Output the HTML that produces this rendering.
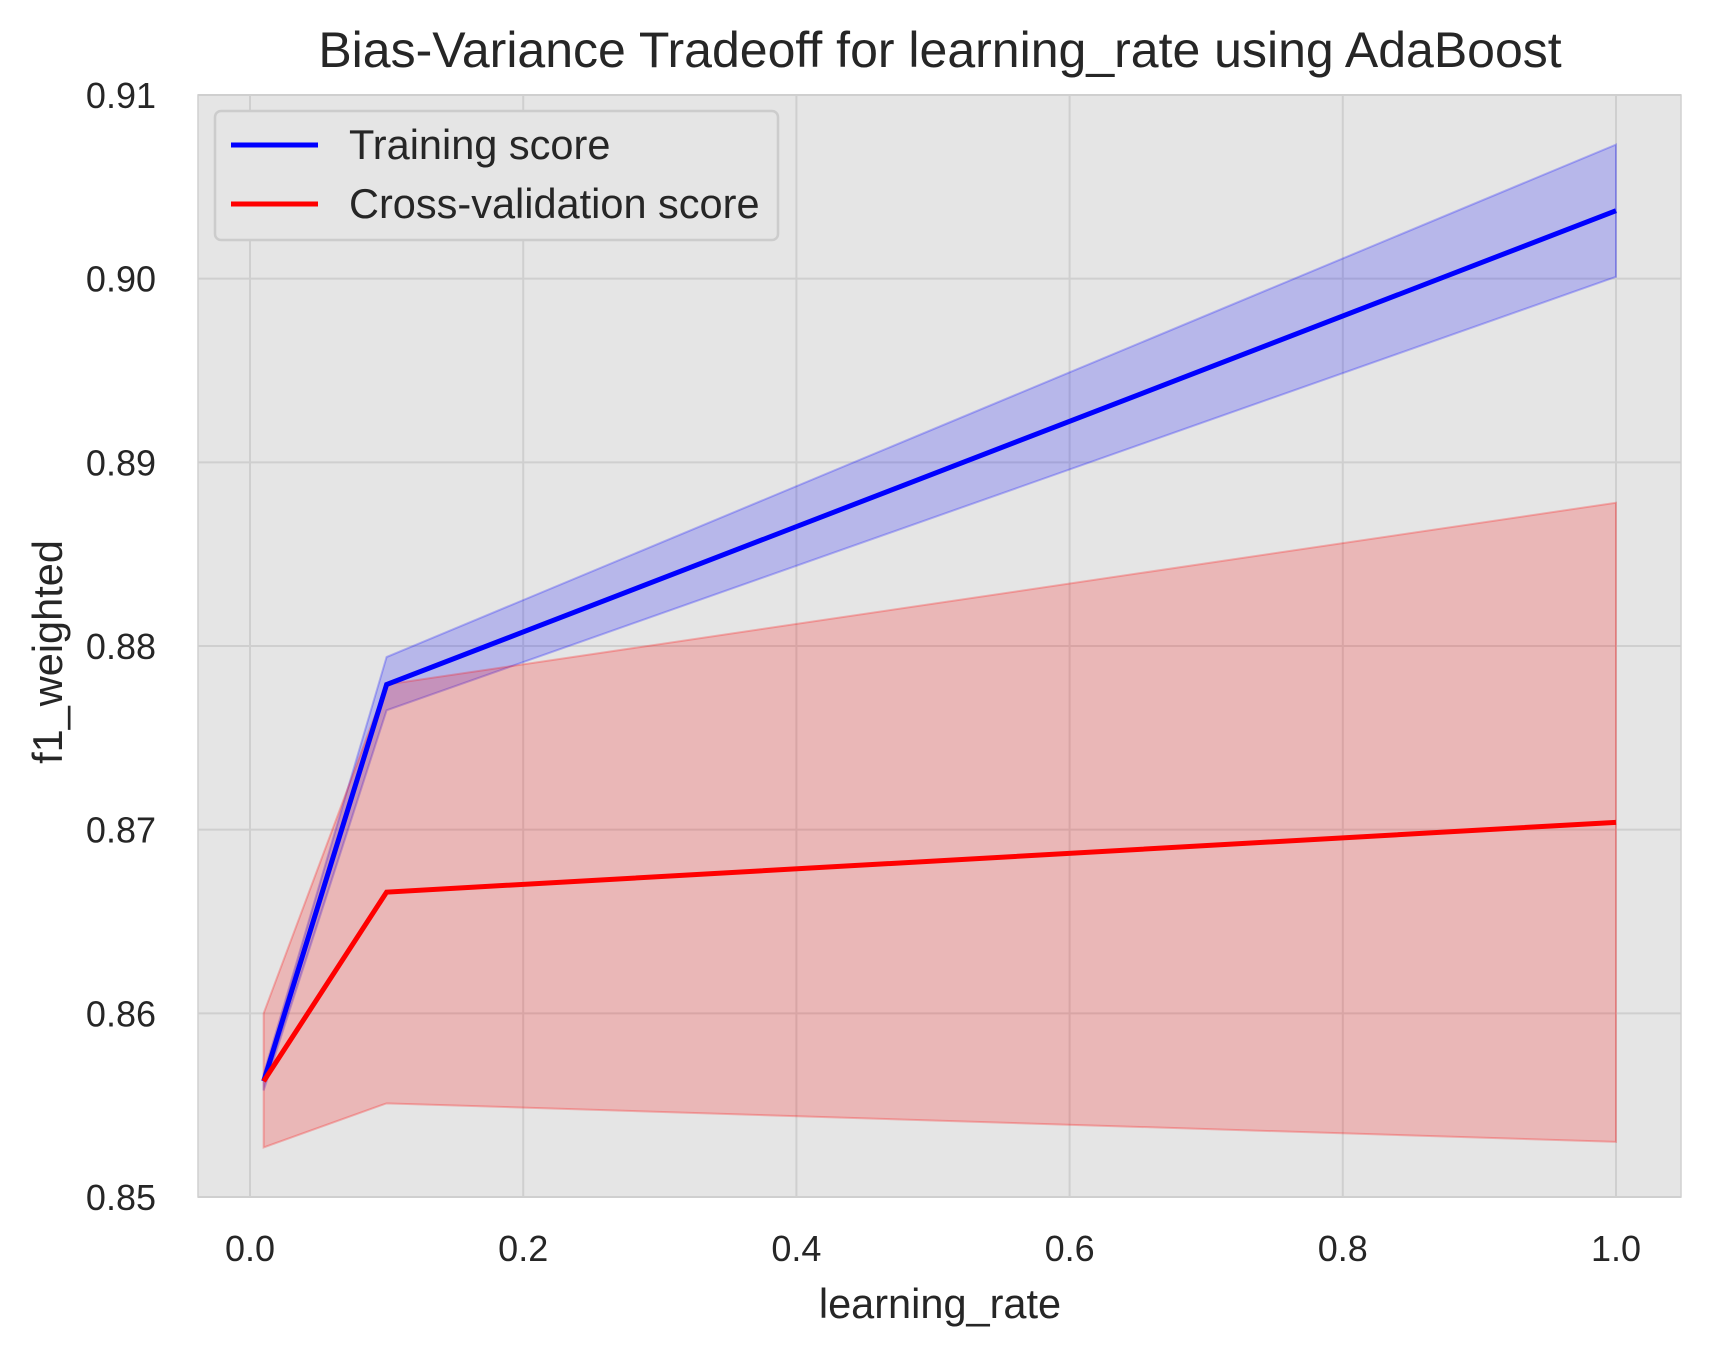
<!DOCTYPE html>
<html><head><meta charset="utf-8"><style>
html,body{margin:0;padding:0;background:#fff}
text{font-family:"Liberation Sans",Arial,sans-serif;fill:#262626}
</style></head><body>
<svg id="chart" width="1713" height="1352" viewBox="0 0 1713 1352" xmlns="http://www.w3.org/2000/svg"></svg>
<script>
const xValues=[0.01,0.1,1.0];
const trainMean=[0.8563,0.8779,0.9037];
const trainUpper=[0.8567,0.8794,0.9073];
const trainLower=[0.8558,0.8765,0.9001];
const cvMean=[0.8563,0.8666,0.8704];
const cvUpper=[0.8600,0.8779,0.8878];
const cvLower=[0.8527,0.8551,0.8530];
const xTicks=[0.0,0.2,0.4,0.6,0.8,1.0];
const xTickLabels=["0.0","0.2","0.4","0.6","0.8","1.0"];
const yTicks=[0.85,0.86,0.87,0.88,0.89,0.90,0.91];
const yTickLabels=["0.85","0.86","0.87","0.88","0.89","0.90","0.91"];

const L=198,R=1681,T=95,B=1197;
const sx=v=>250+(v-0)*(1616-250);
const sy=v=>B-(v-0.85)/(0.06)*(B-T);
const svg=document.getElementById('chart');
const NS='http://www.w3.org/2000/svg';
function mk(tag,attrs,parent){const e=document.createElementNS(NS,tag);for(const k in attrs)e.setAttribute(k,attrs[k]);(parent||svg).appendChild(e);return e;}

const bg=mk('rect',{x:L,y:T,width:R-L,height:B-T,fill:'#e5e5e5',stroke:'#d0d0d0','stroke-width':1.5});



xTicks.forEach((t,i)=>{
  const g=mk('line',{x1:sx(t),x2:sx(t),y1:T,y2:B,stroke:'#cfcfcf','stroke-width':2});
  
  
  const lb=mk('text',{x:sx(t),y:1261,'font-size':36,'text-anchor':'middle'});
  lb.textContent=xTickLabels[i];
  
  
});
yTicks.forEach((t,i)=>{
  const g=mk('line',{x1:L,x2:R,y1:sy(t),y2:sy(t),stroke:'#cfcfcf','stroke-width':2});
  
  
  const lb=mk('text',{x:156,y:sy(t)+13,'font-size':36,'text-anchor':'end'});
  lb.textContent=yTickLabels[i];
  
  
});

function band(up,lo,color,name){
  let d='M'+xValues.map((x,i)=>sx(x)+','+sy(up[i])).join(' L');
  d+=' L'+xValues.map((x,i)=>sx(x)+','+sy(lo[i])).reverse().join(' L')+' Z';
  const p=mk('path',{d:d,fill:color,'fill-opacity':0.2,stroke:color,'stroke-opacity':0.25,'stroke-width':2});
  
  
}
function line(m,color,name){
  const p=mk('polyline',{points:xValues.map((x,i)=>sx(x)+','+sy(m[i])).join(' '),fill:'none',stroke:color,'stroke-width':5});
  
  
}
band(trainUpper,trainLower,'#0000ff','training-band');
band(cvUpper,cvLower,'#ff0000','cv-band');
line(trainMean,'#0000ff','training-line');
line(cvMean,'#ff0000','cv-line');

const lg=mk('g',{});


mk('rect',{x:215,y:111,width:563,height:129,rx:6,fill:'#e5e5e5',stroke:'#cccccc','stroke-width':2.5},lg);
mk('line',{x1:231,x2:318,y1:145,y2:145,stroke:'#0000ff','stroke-width':5},lg);
mk('line',{x1:231,x2:318,y1:204,y2:204,stroke:'#ff0000','stroke-width':5},lg);
const t1=mk('text',{x:349,y:159,'font-size':41.5},lg);t1.textContent='Training score';


const t2=mk('text',{x:349,y:218,'font-size':41.5},lg);t2.textContent='Cross-validation score';



const title=mk('text',{x:940,y:67,'font-size':50,'text-anchor':'middle'});
title.textContent='Bias-Variance Tradeoff for learning_rate using AdaBoost';


const xl=mk('text',{x:940,y:1318,'font-size':41.5,'text-anchor':'middle'});
xl.textContent='learning_rate';


const yl=mk('text',{x:0,y:0,'font-size':41.5,'text-anchor':'middle',transform:'translate(62,652) rotate(-90)'});
yl.textContent='f1_weighted';


</script>
</body></html>
